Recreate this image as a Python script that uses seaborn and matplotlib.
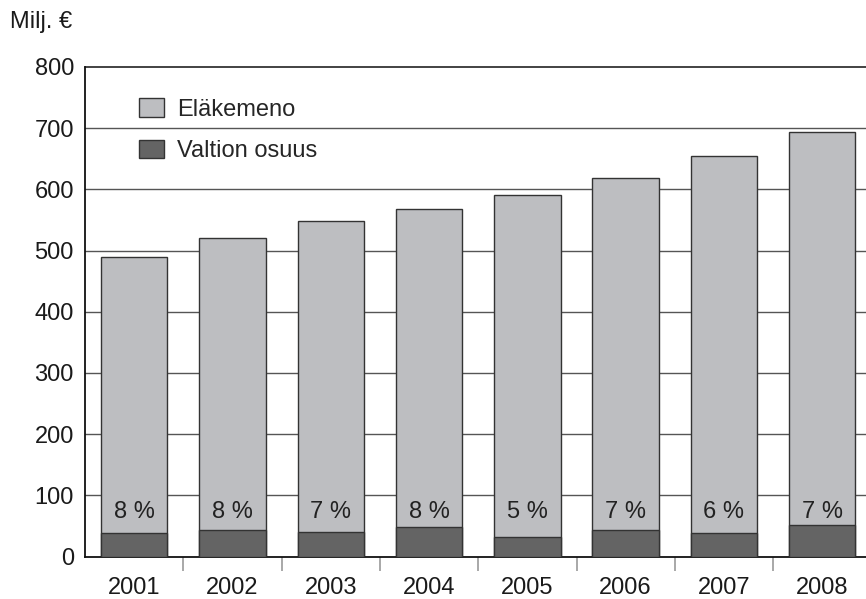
import pandas as pd
import numpy as np
import matplotlib.pyplot as plt
import seaborn as sns
from matplotlib.ticker import FixedLocator

sns.set_style('white')
plt.rcParams['font.family'] = ['Liberation Sans', 'DejaVu Sans']

# Data (milj. euroa)
years = ['2001', '2002', '2003', '2004', '2005', '2006', '2007', '2008']
elakemeno = [489, 520, 548, 568, 591, 619, 654, 693]
valtion_osuus = [38, 44, 40, 48, 32, 43, 38, 51]
osuus_labels = ['8 %', '8 %', '7 %', '8 %', '5 %', '7 %', '6 %', '7 %']

df = pd.DataFrame({'vuosi': years, 'elakemeno': elakemeno, 'valtio': valtion_osuus})

light = '#bdbec1'
dark = '#646464'
edge = '#333333'
fs = 17

fig = plt.figure(figsize=(8.66, 5.99), dpi=100)
ax = fig.add_axes([85 / 866, 1 - 556.5 / 599, (871.4 - 85) / 866, (556.5 - 67) / 599])

# gridlines behind bars
for v in range(100, 800, 100):
    ax.axhline(v, color='#555555', lw=1.0, zorder=0)
ax.axhline(800, color='#222222', lw=1.2, zorder=0, clip_on=False)

sns.barplot(data=df, x='vuosi', y='elakemeno', color=light, saturation=1,
            edgecolor=edge, linewidth=1.0, width=0.675, errorbar=None,
            label='Eläkemeno', ax=ax, zorder=2)
sns.barplot(data=df, x='vuosi', y='valtio', color=dark, saturation=1,
            edgecolor=edge, linewidth=1.0, width=0.675, errorbar=None,
            label='Valtion osuus', ax=ax, zorder=3)

# percent labels inside bars
for i, txt in enumerate(osuus_labels):
    ax.text(i, 72, txt, ha='center', va='center', fontsize=fs, color='#222222', zorder=4)

ax.set_xlim(-0.5, 7.5)
ax.set_ylim(0, 800)
ax.set_yticks(range(0, 801, 100))
ax.set_xlabel('')
ax.set_ylabel('')

ax.tick_params(axis='both', which='major', length=0, labelsize=fs, colors='#1a1a1a')
ax.tick_params(axis='y', pad=8)
ax.tick_params(axis='x', pad=15)
ax.xaxis.set_minor_locator(FixedLocator(np.arange(0.5, 7, 1.0)))
ax.tick_params(axis='x', which='minor', bottom=True, length=10, width=1.2,
               color='#999999', direction='out')

for s in ['top', 'right']:
    ax.spines[s].set_visible(False)
for s in ['left', 'bottom']:
    ax.spines[s].set_color('#111111')
    ax.spines[s].set_linewidth(1.3)

leg = ax.legend(loc='upper left', bbox_to_anchor=(0.042, 0.98), frameon=False,
                fontsize=fs, handlelength=1.05, handleheight=0.85, labelspacing=0.8,
                handletextpad=0.55)

fig.text(10 / 866, 1 - 22 / 599, 'Milj. €', fontsize=fs, va='center', ha='left', color='#1a1a1a')

fig.savefig('out.png', dpi=100)
